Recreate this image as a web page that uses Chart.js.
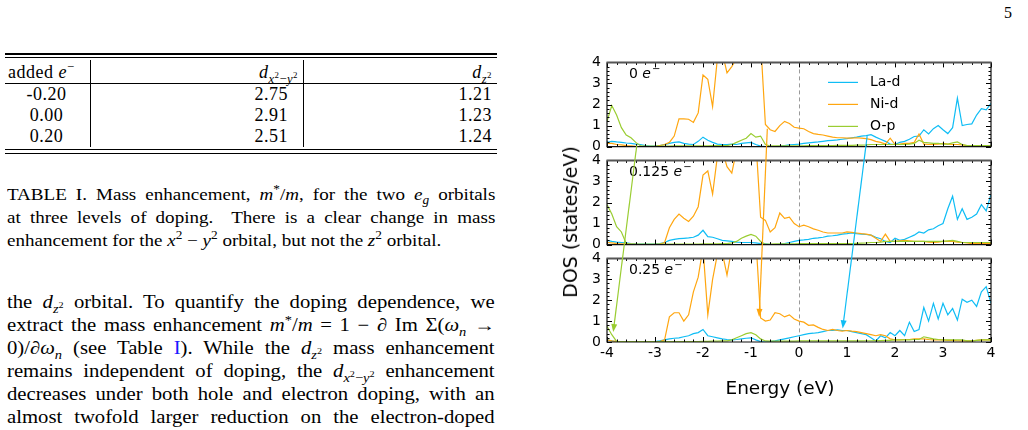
<!DOCTYPE html>
<html>
<head>
<meta charset="utf-8">
<script src="https://cdn.jsdelivr.net/npm/chart.js@4.4.1/dist/chart.umd.min.js"></script>
<style>
body{margin:0;background:#fff;width:1028px;height:430px;overflow:hidden;position:relative;font-family:"Liberation Serif",serif;color:#000}
.abs{position:absolute;white-space:nowrap}
.rule{position:absolute;background:#000;left:5px;width:492px}
.vr{position:absolute;background:#000;width:1px;top:60px;height:87px}
.tb{position:absolute;font-size:18px;line-height:18px;letter-spacing:0.5px;white-space:nowrap}
.cap{position:absolute;left:7px;width:436px;font-size:17px;line-height:17px;text-align:justify;text-align-last:justify;white-space:nowrap;transform:scaleX(1.12);transform-origin:0 0}
.body{position:absolute;left:7px;width:424px;font-size:18px;line-height:18px;text-align:justify;text-align-last:justify;white-space:nowrap;transform:scaleX(1.15);transform-origin:0 0}
sub,sup{line-height:0;font-size:70%}
canvas{position:absolute}
.sans{font-family:"DejaVu Sans",sans-serif}
</style>
</head>
<body>

<div class="abs" style="left:1004px;top:4px;font-size:16px">5</div>

<!-- table -->
<div class="rule" style="top:53px;height:2px"></div>
<div class="rule" style="top:57px;height:1px"></div>
<div class="rule" style="top:83px;height:1px"></div>
<div class="rule" style="top:149px;height:1px"></div>
<div class="rule" style="top:153px;height:1px"></div>
<div class="vr" style="left:90px"></div>
<div class="vr" style="left:303px"></div>
<div class="tb" style="left:8px;top:63px">added <i>e</i><sup>−</sup></div>
<div class="tb" style="left:198px;top:63px;width:100px;text-align:right"><i>d</i><sub><i>x</i><sup>2</sup>−<i>y</i><sup>2</sup></sub></div>
<div class="tb" style="left:392px;top:63px;width:100px;text-align:right"><i>d</i><sub><i>z</i><sup>2</sup></sub></div>
<div class="tb" style="left:5px;top:85px;width:83px;text-align:center">-0.20</div>
<div class="tb" style="left:5px;top:106px;width:83px;text-align:center">0.00</div>
<div class="tb" style="left:5px;top:127px;width:83px;text-align:center">0.20</div>
<div class="tb" style="left:188px;top:85px;width:100px;text-align:right">2.75</div>
<div class="tb" style="left:188px;top:106px;width:100px;text-align:right">2.91</div>
<div class="tb" style="left:188px;top:127px;width:100px;text-align:right">2.51</div>
<div class="tb" style="left:392px;top:85px;width:100px;text-align:right">1.21</div>
<div class="tb" style="left:392px;top:106px;width:100px;text-align:right">1.23</div>
<div class="tb" style="left:392px;top:127px;width:100px;text-align:right">1.24</div>

<!-- caption -->
<div class="cap" style="top:186px">TABLE I. Mass enhancement, <i>m</i><sup>*</sup>/<i>m</i>, for the two <i>e<sub>g</sub></i> orbitals</div>
<div class="cap" style="top:209px">at three levels of doping.&nbsp; There is a clear change in mass</div>
<div class="cap" style="top:232px;text-align:left;text-align-last:left">enhancement for the <i>x</i><sup>2</sup> − <i>y</i><sup>2</sup> orbital, but not the <i>z</i><sup>2</sup> orbital.</div>

<!-- body text -->
<div class="body" style="top:293px">the <i>d</i><sub><i>z</i><sup>2</sup></sub> orbital. To quantify the doping dependence, we</div>
<div class="body" style="top:316px">extract the mass enhancement <i>m</i><sup>*</sup>/<i>m</i> = 1 − ∂ Im Σ(<i>ω<sub>n</sub></i> →</div>
<div class="body" style="top:339px">0)/∂<i>ω<sub>n</sub></i> (see Table <span style="color:#1a1aff">I</span>). While the <i>d</i><sub><i>z</i><sup>2</sup></sub> mass enhancement</div>
<div class="body" style="top:362px">remains independent of doping, the <i>d</i><sub><i>x</i><sup>2</sup>−<i>y</i><sup>2</sup></sub> enhancement</div>
<div class="body" style="top:385px">decreases under both hole and electron doping, with an</div>
<div class="body" style="top:408px">almost twofold larger reduction on the electron-doped</div>

<!-- figure -->
<canvas id="dos0" width="450" height="108" style="left:560px;top:50px"></canvas>
<canvas id="dos1" width="450" height="108" style="left:560px;top:148px"></canvas>
<canvas id="dos2" width="450" height="126" style="left:560px;top:246px"></canvas>
<canvas id="arrows" width="1028" height="430" style="left:0;top:0;pointer-events:none"></canvas>
<div class="abs sans" style="left:570px;top:222px;font-size:19px;transform:translate(-50%,-50%) rotate(-90deg)">DOS (states/eV)</div>
<div class="abs sans" style="left:780px;top:387px;font-size:18.5px;transform:translate(-50%,-50%)">Energy (eV)</div>

<script>
// energy grid (eV)
const energy = [
  -4.0,-3.9,-3.8,-3.7,-3.6,-3.5,-3.4,-3.3,-3.2,-3.1,
  -3.0,-2.9,-2.8,-2.7,-2.6,-2.5,-2.4,-2.3,-2.2,-2.1,
  -2.0,-1.9,-1.8,-1.7,-1.6,-1.5,-1.4,-1.3,-1.2,-1.1,
  -1.0,-0.9,-0.8,-0.7,-0.6,-0.5,-0.4,-0.3,-0.2,-0.1,
  0.0,0.1,0.2,0.3,0.4,0.5,0.6,0.7,0.8,0.9,
  1.0,1.1,1.2,1.3,1.4,1.5,1.6,1.7,1.8,1.9,
  2.0,2.1,2.2,2.3,2.4,2.5,2.6,2.7,2.8,2.9,
  3.0,3.1,3.2,3.3,3.4,3.5,3.6,3.7,3.8,3.9,
  4.0]

// 0 e-
const laD0 = [
  0.20,0.25,0.22,0.20,0.17,0.15,0.12,0.10,0.05,0.02,
  0.02,0.05,0.10,0.15,0.20,0.22,0.15,0.12,0.10,0.25,
  0.45,0.30,0.20,0.12,0.10,0.10,0.12,0.10,0.15,0.18,
  0.20,0.10,0.02,0.00,0.00,0.00,0.02,0.05,0.08,0.10,
  0.12,0.15,0.18,0.20,0.22,0.25,0.28,0.30,0.32,0.35,
  0.38,0.42,0.45,0.50,0.52,0.57,0.45,0.35,0.25,0.12,
  0.10,0.20,0.25,0.35,0.48,0.50,0.80,0.60,0.85,1.00,
  0.80,0.62,0.90,2.30,1.00,1.05,1.08,1.50,1.80,1.75,
  2.05]
const niD0 = [
  0.15,0.15,0.10,0.08,0.05,0.03,0.01,0.00,0.00,0.00,
  0.00,0.05,0.10,0.20,0.50,1.32,1.32,1.30,1.15,1.60,
  3.40,3.20,1.90,4.20,4.50,3.50,3.80,4.20,5.00,5.00,
  5.00,5.00,5.00,1.05,0.80,0.72,1.00,1.20,1.10,0.92,
  0.88,0.85,0.72,0.62,0.58,0.55,0.50,0.45,0.42,0.42,
  0.40,0.40,0.42,0.40,0.38,0.33,0.25,0.20,0.12,0.40,
  0.10,0.12,0.15,0.15,0.20,0.60,0.12,0.10,0.10,0.12,
  0.15,0.12,0.10,0.10,0.08,0.05,0.05,0.05,0.05,0.05,
  0.05]
const opP0 = [
  1.20,1.95,1.50,0.90,0.55,0.42,0.20,0.03,0.02,0.02,
  0.02,0.02,0.02,0.02,0.03,0.03,0.03,0.03,0.04,0.04,
  0.04,0.04,0.05,0.05,0.05,0.05,0.10,0.20,0.30,0.40,
  0.62,0.45,0.50,0.10,0.03,0.03,0.03,0.03,0.03,0.03,
  0.04,0.04,0.05,0.05,0.05,0.05,0.05,0.05,0.06,0.06,
  0.06,0.06,0.07,0.07,0.08,0.10,0.10,0.10,0.10,0.10,
  0.10,0.10,0.10,0.12,0.15,0.30,0.20,0.18,0.15,0.15,
  0.12,0.12,0.18,0.22,0.10,0.05,0.05,0.05,0.05,0.05,
  0.05]

// 0.125 e-
const laD1 = [
  0.20,0.15,0.12,0.10,0.08,0.05,0.03,0.02,0.02,0.02,
  0.03,0.05,0.10,0.20,0.25,0.28,0.30,0.32,0.35,0.45,
  0.68,0.38,0.35,0.28,0.20,0.18,0.15,0.12,0.10,0.10,
  0.10,0.08,0.05,0.03,0.00,0.00,0.02,0.05,0.10,0.15,
  0.20,0.22,0.25,0.30,0.32,0.35,0.40,0.42,0.45,0.50,
  0.52,0.55,0.52,0.50,0.48,0.45,0.35,0.28,0.15,0.10,
  0.30,0.20,0.25,0.35,0.45,0.60,0.55,0.70,0.75,0.90,
  1.00,1.70,2.30,1.20,1.70,1.20,1.30,1.45,1.90,1.60,
  2.40]
const niD1 = [
  0.10,0.08,0.05,0.04,0.03,0.02,0.01,0.00,0.00,0.00,
  0.00,0.02,0.10,0.80,1.20,1.45,1.25,1.10,1.35,1.80,
  3.30,3.50,2.40,4.20,4.50,3.70,3.40,4.50,5.00,5.00,
  5.00,5.00,1.30,1.15,0.60,0.80,1.50,1.25,1.30,1.00,
  0.85,0.92,0.85,0.75,0.68,0.60,0.55,0.55,0.55,0.55,
  0.60,0.58,0.55,0.52,0.50,0.45,0.30,0.15,0.50,0.15,
  0.15,0.18,0.20,0.18,0.15,0.15,0.15,0.12,0.10,0.12,
  0.15,0.15,0.15,0.12,0.10,0.08,0.05,0.05,0.05,0.05,
  0.05]
const opP1 = [
  1.90,1.45,0.85,0.60,0.05,0.02,0.02,0.02,0.02,0.02,
  0.02,0.02,0.02,0.02,0.02,0.02,0.02,0.02,0.02,0.02,
  0.03,0.03,0.04,0.04,0.05,0.05,0.08,0.15,0.30,0.40,
  0.48,0.40,0.15,0.02,0.02,0.03,0.03,0.03,0.04,0.04,
  0.05,0.05,0.05,0.05,0.05,0.05,0.05,0.05,0.05,0.05,
  0.05,0.05,0.06,0.07,0.08,0.10,0.10,0.12,0.15,0.15,
  0.15,0.15,0.15,0.15,0.15,0.15,0.15,0.15,0.15,0.15,
  0.15,0.18,0.20,0.15,0.10,0.10,0.10,0.10,0.10,0.10,
  0.10]

// 0.25 e-
const laD2 = [
  0.10,0.05,0.00,0.02,0.02,0.02,0.02,0.02,0.02,0.02,
  0.02,0.05,0.10,0.15,0.18,0.20,0.25,0.30,0.40,0.45,
  0.60,0.30,0.25,0.20,0.15,0.12,0.10,0.12,0.15,0.18,
  0.20,0.10,0.02,0.00,0.02,0.05,0.10,0.15,0.20,0.25,
  0.30,0.35,0.40,0.42,0.45,0.50,0.55,0.55,0.58,0.55,
  0.55,0.50,0.45,0.40,0.35,0.20,0.05,0.30,0.20,0.45,
  0.30,0.55,0.30,0.95,0.50,0.60,1.65,1.00,1.85,1.10,
  1.85,1.30,1.60,1.05,2.05,1.90,2.00,1.70,2.40,2.65,
  1.85]
const niD2 = [
  0.10,0.05,0.03,0.00,0.00,0.00,0.00,0.00,0.00,0.00,
  0.00,0.02,0.10,1.20,1.40,1.40,1.00,1.30,2.40,3.10,
  4.50,1.30,3.00,4.20,4.30,3.20,4.50,5.00,5.00,5.00,
  5.00,5.00,1.15,1.00,1.05,1.40,1.35,1.20,1.30,1.10,
  1.00,0.95,0.80,0.82,0.70,0.60,0.55,0.60,0.55,0.52,
  0.55,0.52,0.50,0.45,0.40,0.35,0.30,0.35,0.30,0.15,
  0.10,0.10,0.12,0.12,0.15,0.15,0.15,0.12,0.10,0.10,
  0.10,0.08,0.08,0.06,0.05,0.05,0.05,0.08,0.10,0.10,
  0.10]
const opP2 = [
  0.75,0.35,0.03,0.02,0.02,0.02,0.02,0.02,0.02,0.02,
  0.02,0.02,0.02,0.02,0.02,0.02,0.02,0.02,0.02,0.02,
  0.03,0.03,0.04,0.04,0.05,0.05,0.10,0.20,0.30,0.40,
  0.45,0.35,0.15,0.05,0.04,0.04,0.04,0.04,0.04,0.04,
  0.05,0.05,0.05,0.05,0.05,0.05,0.05,0.05,0.05,0.05,
  0.05,0.05,0.05,0.05,0.06,0.06,0.07,0.07,0.08,0.08,
  0.10,0.10,0.10,0.10,0.12,0.12,0.25,0.20,0.15,0.12,
  0.10,0.10,0.10,0.10,0.10,0.05,0.05,0.08,0.10,0.10,
  0.10]

const dopings = ['0', '0.125', '0.25']
const seriesNames = ['La-d', 'Ni-d', 'O-p']
const seriesColors = ['#0fbdf5', '#ffa60f', '#9acd32']
const panelData = [[laD0, niD0, opP0], [laD1, niD1, opP1], [laD2, niD2, opP2]]
const xTickLabels = [-4, -3, -2, -1, 0, 1, 2, 3, 4]
const yTickLabels = [0, 1, 2, 3, 4]

// arrows: start in top panel, end in bottom panel (energy, DOS)
const arrowSeries = [2, 1, 0]
const arrowFrom = [[-3.38, 0.05], [-0.66, 0.85], [1.42, 0.50]]
const arrowTo = [[-3.87, 0.48], [-0.83, 1.20], [0.91, 0.65]]

const plotLeft = 607
const panelTops = [62, 160, 258]
const panelHeight = 84

Chart.defaults.font.family = '"DejaVu Sans"'
Chart.defaults.font.size = 14
Chart.defaults.color = '#000'

const isTick = (v, list) => list.some(t => Math.abs(t - v) < 1e-6)

const panelDecor = {
  id: 'panelDecor',
  beforeDatasetsDraw(chart) {
    const {ctx, chartArea: a, scales} = chart
    const x0 = Math.round(scales.x.getPixelForValue(0)) + 0.5
    ctx.save()
    ctx.strokeStyle = '#9a9a9a'
    ctx.lineWidth = 1
    ctx.setLineDash([4, 3])
    ctx.beginPath()
    ctx.moveTo(x0, a.top)
    ctx.lineTo(x0, a.bottom)
    ctx.stroke()
    ctx.restore()
  },
  afterDraw(chart, args, opts) {
    const {ctx, chartArea: a, scales: {x, y}} = chart
    ctx.save()
    ctx.strokeStyle = '#000'
    ctx.lineWidth = 1
    ctx.beginPath()
    x.ticks.forEach(t => {
      const px = Math.round(x.getPixelForValue(t.value)) + 0.5
      const len = isTick(t.value, xTickLabels) ? 5 : 2.5
      ctx.moveTo(px, a.bottom); ctx.lineTo(px, a.bottom - len)
      ctx.moveTo(px, a.top); ctx.lineTo(px, a.top + len)
    })
    y.ticks.forEach(t => {
      const py = Math.round(y.getPixelForValue(t.value)) + 0.5
      const len = isTick(t.value, yTickLabels) ? 5 : 2.5
      ctx.moveTo(a.left, py); ctx.lineTo(a.left + len, py)
      ctx.moveTo(a.right, py); ctx.lineTo(a.right - len, py)
    })
    ctx.stroke()

    // frame
    ctx.lineWidth = 1.2
    ctx.strokeStyle = '#111'
    ctx.beginPath()
    ctx.moveTo(a.left, a.top); ctx.lineTo(a.left, a.bottom)
    ctx.lineTo(a.right, a.bottom); ctx.lineTo(a.right, a.top)
    ctx.stroke()
    ctx.lineWidth = 2
    ctx.strokeStyle = '#555'
    ctx.beginPath()
    ctx.moveTo(a.left - 0.5, a.top); ctx.lineTo(a.right + 0.5, a.top)
    ctx.stroke()

    // doping label
    ctx.fillStyle = '#000'
    ctx.textBaseline = 'middle'
    let tx = a.left + 22
    const ty = a.top + 12
    ctx.font = '14px "DejaVu Sans"'
    const lead = opts.doping + ' '
    ctx.fillText(lead, tx, ty)
    tx += ctx.measureText(lead).width
    ctx.font = 'oblique 14px "DejaVu Sans"'
    ctx.fillText('e', tx, ty)
    tx += ctx.measureText('e').width + 1
    ctx.font = '10px "DejaVu Sans"'
    ctx.fillText('\u2212', tx, ty - 5)

    // legend
    if (opts.legend) {
      chart.data.datasets.forEach((ds, k) => {
        const ly = a.top + 20 + k * 22
        ctx.strokeStyle = ds.borderColor
        ctx.lineWidth = 1.2
        ctx.beginPath()
        ctx.moveTo(a.left + 221, ly); ctx.lineTo(a.left + 251, ly)
        ctx.stroke()
        ctx.font = '14px "DejaVu Sans"'
        ctx.fillStyle = '#000'
        ctx.fillText(ds.label, a.left + 263, ly)
      })
    }
    ctx.restore()
  }
}

const buildPanel = (i) => {
  const last = i === panelData.length - 1
  const datasets = panelData[i].map((vals, k) => ({
    label: seriesNames[k],
    data: energy.map((e, j) => ({x: e, y: vals[j]})),
    borderColor: seriesColors[k],
    borderWidth: 1.2,
    pointRadius: 0,
    tension: 0,
    fill: false,
    order: 2 - k
  }))
  return new Chart(document.getElementById('dos' + i), {
    type: 'line',
    data: {datasets},
    plugins: [panelDecor],
    options: {
      responsive: false,
      maintainAspectRatio: false,
      animation: false,
      events: [],
      layout: {padding: {top: 12, right: 19, left: 0, bottom: last ? 0 : 12}},
      plugins: {
        legend: {display: false},
        tooltip: {enabled: false},
        panelDecor: {doping: dopings[i], legend: i === 0}
      },
      scales: {
        x: {
          type: 'linear', min: -4, max: 4,
          grid: {display: false, drawTicks: false},
          border: {display: false},
          ticks: {
            display: last, stepSize: 0.2, autoSkip: false, maxRotation: 0, padding: 3,
            callback: v => isTick(v, xTickLabels) ? String(Math.round(v)) : ''
          },
          afterFit: s => { s.height = last ? 30 : 0 }
        },
        y: {
          min: 0, max: 4,
          grid: {display: false, drawTicks: false},
          border: {display: false},
          ticks: {
            stepSize: 0.2, autoSkip: false, padding: 6,
            callback: v => isTick(v, yTickLabels) ? String(Math.round(v)) : ''
          },
          afterFit: s => { s.width = 47 }
        }
      }
    }
  })
}

const charts = panelData.map((_, i) => {
  let ch = buildPanel(i)
  // make the plot area exactly one panel tall
  const diff = Math.round(panelHeight - ch.chartArea.height)
  if (diff !== 0) {
    const c = ch.canvas
    const h = c.height
    ch.destroy()
    c.height = h + diff
    ch = buildPanel(i)
  }
  return ch
})

// line up each plot area with its panel slot
charts.forEach((ch, i) => {
  const c = ch.canvas
  c.style.left = (plotLeft - ch.chartArea.left) + 'px'
  c.style.top = (panelTops[i] - ch.chartArea.top) + 'px'
})

// arrows crossing the panels
const drawArrows = () => {
  const ctx = document.getElementById('arrows').getContext('2d')
  const top = charts[0], bot = charts[charts.length - 1]
  arrowFrom.forEach((from, k) => {
    const x1 = top.canvas.offsetLeft + top.scales.x.getPixelForValue(from[0])
    const y1 = top.canvas.offsetTop + top.scales.y.getPixelForValue(from[1])
    const x2 = bot.canvas.offsetLeft + bot.scales.x.getPixelForValue(arrowTo[k][0])
    const y2 = bot.canvas.offsetTop + bot.scales.y.getPixelForValue(arrowTo[k][1])
    const ang = Math.atan2(y2 - y1, x2 - x1)
    const col = seriesColors[arrowSeries[k]]
    ctx.strokeStyle = col
    ctx.fillStyle = col
    ctx.lineWidth = 1.2
    ctx.beginPath()
    ctx.moveTo(x1, y1)
    ctx.lineTo(x2 - 6 * Math.cos(ang), y2 - 6 * Math.sin(ang))
    ctx.stroke()
    ctx.beginPath()
    ctx.moveTo(x2, y2)
    ctx.lineTo(x2 - 8 * Math.cos(ang) + 3 * Math.sin(ang), y2 - 8 * Math.sin(ang) - 3 * Math.cos(ang))
    ctx.lineTo(x2 - 8 * Math.cos(ang) - 3 * Math.sin(ang), y2 - 8 * Math.sin(ang) + 3 * Math.cos(ang))
    ctx.closePath()
    ctx.fill()
  })
}
drawArrows()
</script>
</body>
</html>
